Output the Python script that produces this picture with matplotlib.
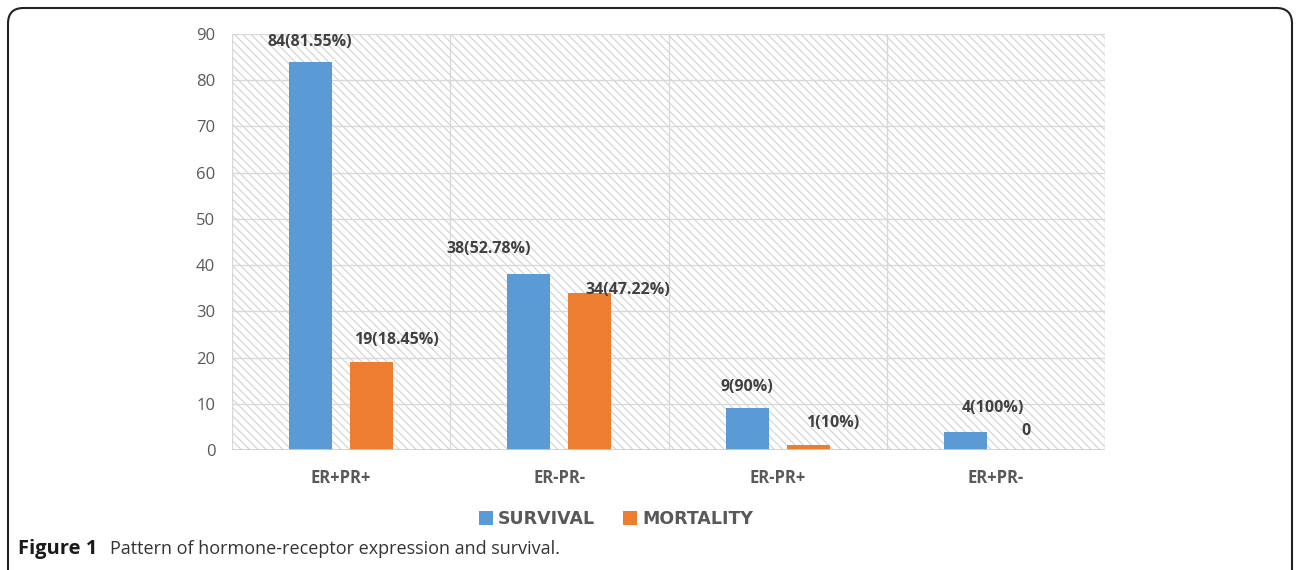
import matplotlib
matplotlib.use("Agg")
import matplotlib.pyplot as plt
from matplotlib.patches import Rectangle, FancyBboxPatch
import numpy as np

categories = ["ER+PR+", "ER-PR-", "ER-PR+", "ER+PR-"]
survival = [84, 38, 9, 4]
mortality = [19, 34, 1, 0]
survival_labels = ["84(81.55%)", "38(52.78%)", "9(90%)", "4(100%)"]
mortality_labels = ["19(18.45%)", "34(47.22%)", "1(10%)", "0"]
series_names = ["SURVIVAL", "MORTALITY"]
yticks = [0, 10, 20, 30, 40, 50, 60, 70, 80, 90]

# label nudges in pixels (dx, dy above bar top)
surv_off = [(-1, 20), (-40, 25), (0, 21), (28, 24)]
mort_off = [(25, 22), (38, 3), (24, 22), (0, 19)]

BLUE = "#5b9bd5"
ORANGE = "#ed7d31"
GRID = "#d9d9d9"
TXT = "#595959"
LBL = "#404040"

plt.rcParams["font.family"] = ["Open Sans", "DejaVu Sans"]
plt.rcParams["hatch.linewidth"] = 0.8

fig = plt.figure(figsize=(12.96, 5.70), dpi=100)
W, H = 1296, 570
ax = fig.add_axes([232 / W, 1 - 450 / H, (1105 - 232) / W, (450 - 34) / H])

# hatched plot background
ax.add_patch(Rectangle((0, 0), 1, 1, transform=ax.transAxes, facecolor="white",
                       edgecolor="#d3d3d3", hatch="\\\\\\\\", lw=0, zorder=0))

x = np.arange(len(categories))
bw = 0.197
sep = 0.14
ax.bar(x - sep, survival, bw, color=BLUE, zorder=3, label=series_names[0])
ax.bar(x + sep, mortality, bw, color=ORANGE, zorder=3, label=series_names[1])

ax.set_xlim(-0.5, len(categories) - 0.5)
ax.set_ylim(0, 90)
ax.set_yticks(yticks)
ax.set_xticks(x)
ax.set_xticklabels(categories, fontsize=12, fontweight="bold", color=TXT)
ax.tick_params(axis="y", length=0, pad=12, labelsize=12, labelcolor=TXT)
ax.tick_params(axis="x", length=0, pad=14)

for v in yticks:
    ax.axhline(v, color=GRID, lw=1, zorder=1)
for b in np.arange(-0.5, len(categories), 1.0):
    ax.axvline(b, color=GRID, lw=1, zorder=1)
for s in ax.spines.values():
    s.set_visible(False)
ax.axhline(0, color="#cfcfcf", lw=1.2, zorder=4)

for i in range(len(categories)):
    ax.annotate(survival_labels[i], (x[i] - sep, survival[i]),
                xytext=surv_off[i], textcoords="offset pixels",
                ha="center", va="center", fontsize=11.5, fontweight="bold",
                color=LBL, zorder=5)
    ax.annotate(mortality_labels[i], (x[i] + sep, mortality[i]),
                xytext=mort_off[i], textcoords="offset pixels",
                ha="center", va="center", fontsize=11.5, fontweight="bold",
                color=LBL, zorder=5)

leg = fig.legend(loc="center", bbox_to_anchor=(616 / W, 1 - 519 / H), ncol=2,
                 frameon=False, handlelength=0.8, handleheight=0.8,
                 handletextpad=0.3, columnspacing=1.6,
                 prop={"size": 12.5, "weight": "bold", "family": "DejaVu Sans"})
for t in leg.get_texts():
    t.set_color(TXT)

fig.text(18 / W, 1 - 549 / H, "Figure 1", fontsize=14.5, fontweight="bold",
         va="center", ha="left", color="#1a1a1a")
fig.text(110 / W, 1 - 549 / H, "Pattern of hormone-receptor expression and survival.",
         fontsize=13, va="center", ha="left", color="#333333")

# rounded frame around the figure
frame = FancyBboxPatch((8 / W, -20 / H), (1292 - 8) / W, (570 - 8 + 20) / H,
                       boxstyle="round,pad=0,rounding_size=0.012",
                       transform=fig.transFigure, fill=False,
                       edgecolor="#222222", lw=1.5, mutation_aspect=W / H)
fig.patches.append(frame)

fig.savefig("out.png", dpi=100)
